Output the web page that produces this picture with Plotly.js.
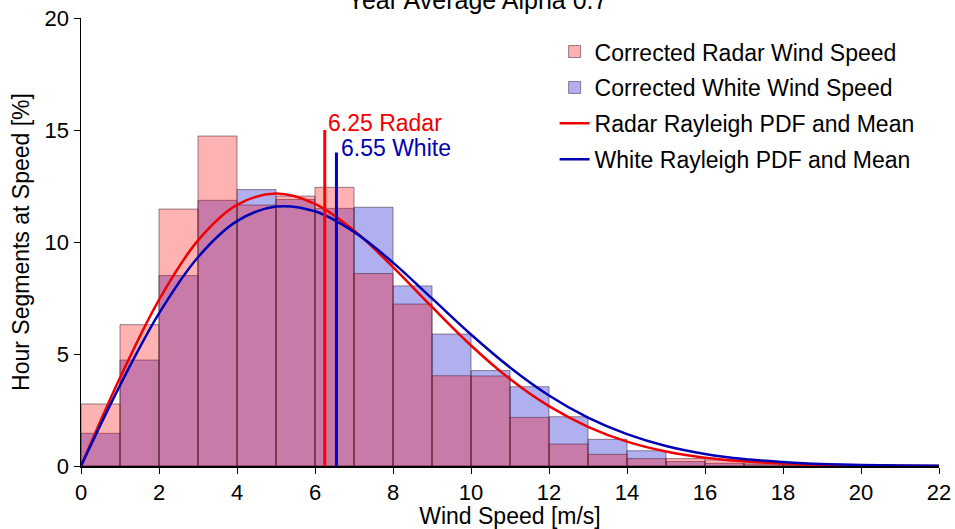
<!DOCTYPE html>
<html>
<head>
<meta charset="utf-8">
<script src="https://cdn.plot.ly/plotly-3.0.1.min.js"></script>
<style>html,body{margin:0;padding:0;background:#fff;}#chart{width:955px;height:529px;}</style>
</head>
<body>
<div id="chart"></div>
<script>
// Histogram bins (1 m/s wide), bin centres
var binCenters = [0.5,1.5,2.5,3.5,4.5,5.5,6.5,7.5,8.5,9.5,10.5,11.5,12.5,13.5,14.5,15.5,16.5,17.5,18.5,19.5,20.5,21.5];
var radarPct = [2.77,6.31,11.47,14.73,11.65,12.05,12.44,8.59,7.23,4.03,4.02,2.17,0.98,0.52,0.33,0.33,0.27,0.14,0.06,0.03,0.02,0.01];
var whitePct = [1.46,4.73,8.50,11.86,12.34,11.90,11.50,11.55,8.04,5.89,4.26,3.54,2.20,1.19,0.68,0.20,0.12,0.08,0.04,0.02,0.01,0.01];

// Rayleigh PDF curves
var curveX = [0,1,2,3,4,5,6,7,8,9,10,11,12,13,14,15,16,17,18,19,20,21,22];
var radarPdf = [0,3.94,7.42,10.07,11.66,12.16,11.70,10.51,8.88,7.10,5.38,3.88,2.67,1.75,1.09,0.65,0.37,0.21,0.11,0.05,0.03,0.01,0.005];
var whitePdf = [0,3.60,6.81,9.32,10.93,11.58,11.37,10.45,9.08,7.48,5.87,4.40,3.15,2.16,1.42,0.89,0.54,0.31,0.18,0.09,0.05,0.02,0.01];

// Means
var radarMean = 6.25, radarMeanTop = 15;
var whiteMean = 6.55, whiteMeanTop = 14;

var names = ["Corrected Radar Wind Speed","Corrected White Wind Speed","Radar Rayleigh PDF and Mean","White Rayleigh PDF and Mean"];

var outline = {color:"rgba(70,40,60,0.55)", width:1};
var traces = [
  {type:"bar", x:binCenters, y:whitePct, width:1, name:names[1], legendgroup:"b",
   marker:{color:"rgba(0,0,210,0.31)", line:outline}, legendrank:2},
  {type:"bar", x:binCenters, y:radarPct, width:1, name:names[0], legendgroup:"a",
   marker:{color:"rgba(255,0,0,0.30)", line:outline}, legendrank:1},
  {type:"scatter", mode:"lines", x:curveX, y:radarPdf, name:names[2], legendgroup:"c",
   line:{color:"#f00000", width:2.5, shape:"spline"}, legendrank:3},
  {type:"scatter", mode:"lines", x:curveX, y:whitePdf, name:names[3], legendgroup:"d",
   line:{color:"#0000b4", width:2.5, shape:"spline"}, legendrank:4},
  {type:"scatter", mode:"lines", x:[radarMean,radarMean], y:[0,radarMeanTop], showlegend:false, legendgroup:"c",
   line:{color:"#ff0000", width:3}},
  {type:"scatter", mode:"lines", x:[whiteMean,whiteMean], y:[0,whiteMeanTop], showlegend:false, legendgroup:"d",
   line:{color:"#0000c8", width:3}}
];

var font = "Liberation Sans, Arial, Helvetica, sans-serif";
var layout = {
  width:955, height:529,
  margin:{l:81, r:16, t:18, b:63},
  paper_bgcolor:"#fff", plot_bgcolor:"#fff",
  font:{family:font, size:22, color:"#000"},
  barmode:"overlay", bargap:0,
  showlegend:true,
  title:{text:"Year Average Alpha 0.7", font:{family:font, size:25, color:"#000"},
         x:0.5, xref:"container", y:1, yref:"container", yanchor:"middle"},
  xaxis:{range:[0,22], tickvals:[0,2,4,6,8,10,12,14,16,18,20,22], showgrid:false, zeroline:false,
         showline:true, linecolor:"#000", linewidth:1.5, ticks:"outside", ticklen:6, tickcolor:"#000",
         tickfont:{size:22}, title:{text:"Wind Speed [m/s]", font:{size:23}, standoff:4}},
  yaxis:{range:[0,20], tickvals:[0,5,10,15,20], showgrid:false, zeroline:false,
         showline:true, linecolor:"#000", linewidth:1.5, ticks:"outside", ticklen:6, tickcolor:"#000",
         tickfont:{size:22}, title:{text:"Hour Segments at Speed [%]", font:{size:23}, standoff:8}},
  legend:{x:0.552, y:0.973, xanchor:"left", yanchor:"top", font:{size:23},
          traceorder:"grouped", tracegroupgap:3, bgcolor:"rgba(255,255,255,0)", itemwidth:30},
  annotations:[
    {x:radarMean, y:15.3, xref:"x", yref:"y", text:radarMean.toFixed(2)+" Radar", showarrow:false,
     xanchor:"left", yanchor:"middle", xshift:1, font:{size:23, color:"#f00000"}},
    {x:whiteMean, y:14.2, xref:"x", yref:"y", text:whiteMean.toFixed(2)+" White", showarrow:false,
     xanchor:"left", yanchor:"middle", xshift:3, font:{size:23, color:"#0000b4"}}
  ]
};

Plotly.newPlot("chart", traces, layout, {staticPlot:true, displayModeBar:false});
</script>
</body>
</html>
